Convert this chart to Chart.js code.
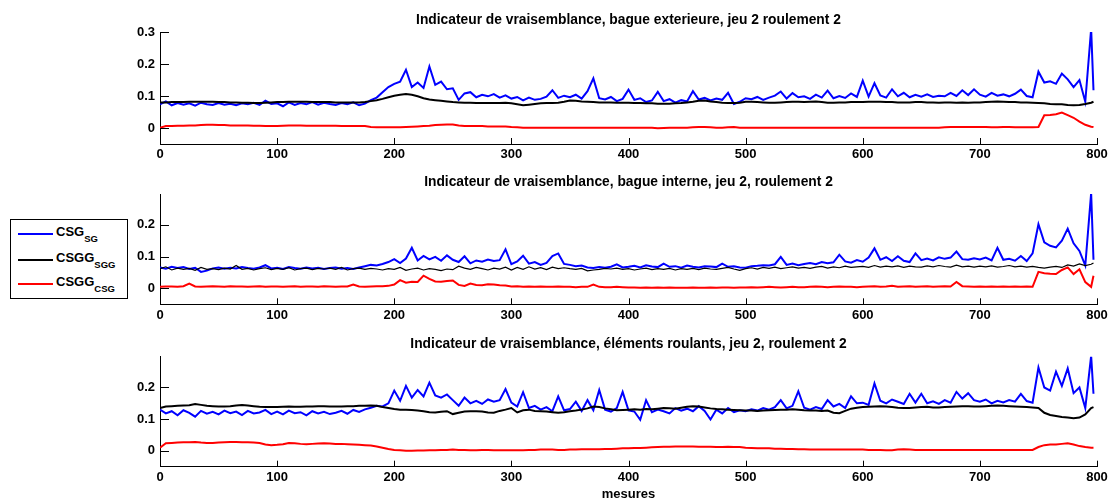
<!DOCTYPE html>
<html>
<head>
<meta charset="utf-8">
<script src="https://cdn.jsdelivr.net/npm/chart.js@4"></script>
<style>
    body { margin: 0; background: #fff; width: 1115px; height: 502px; overflow: hidden; position: relative;
           font-family: "Liberation Sans", Arial, sans-serif; }
    .panel { position: absolute; left: 0; }
    #legende { position: absolute; left: 10px; top: 219px; width: 116px; height: 78px; border: 1px solid #000; background: #fff; }
    .trait { position: absolute; left: 7px; width: 35px; height: 0; border-top: 2px solid; }
    .nom { position: absolute; left: 45px; font-size: 13px; line-height: 13px; font-weight: bold; white-space: nowrap; color: #000; }
    .nom span { font-size: 9.5px; position: relative; top: 6px; }
</style>
</head>
<body>
<div class="panel" style="top:0"><canvas id="p1" width="1115" height="165"></canvas></div>
<div class="panel" style="top:165px"><canvas id="p2" width="1115" height="165"></canvas></div>
<div class="panel" style="top:330px"><canvas id="p3" width="1115" height="172"></canvas></div>

<div id="legende">
    <div class="trait" style="top:13px;border-color:#0000ff"></div>
    <div class="nom" style="top:5px">CSG<span>SG</span></div>
    <div class="trait" style="top:39px;border-color:#000000"></div>
    <div class="nom" style="top:31px">CSGG<span>SGG</span></div>
    <div class="trait" style="top:63px;border-color:#ff0000"></div>
    <div class="nom" style="top:55px">CSGG<span>CSG</span></div>
</div>

<script>
// mesures : 0, 5, 10 ... 795 puis 797
const mesures = Array.from({length: 160}, (_, i) => i * 5).concat([797]);
const ticksX = [0, 100, 200, 300, 400, 500, 600, 700, 800];
const ticksY1 = [0, 0.1, 0.2, 0.3];
const ticksY23 = [0, 0.1, 0.2];
const noms = ['CSG_SG', 'CSGG_SGG', 'CSGG_CSG'];
const titres = [
    'Indicateur de vraisemblance, bague exterieure, jeu 2 roulement 2',
    'Indicateur de vraisemblance, bague interne, jeu 2, roulement 2',
    'Indicateur de vraisemblance, éléments roulants, jeu 2, roulement 2'
];

// bague exterieure
const bleu1 = [
    0.074,0.083,0.071,0.078,0.073,0.077,0.070,0.079,0.074,0.072,
    0.078,0.073,0.076,0.071,0.077,0.074,0.079,0.072,0.085,0.075,
    0.077,0.068,0.080,0.072,0.078,0.074,0.081,0.073,0.079,0.075,
    0.072,0.078,0.074,0.080,0.071,0.076,0.087,0.095,0.112,0.128,
    0.138,0.145,0.182,0.128,0.142,0.125,0.192,0.135,0.145,0.121,
    0.124,0.088,0.108,0.112,0.096,0.104,0.099,0.106,0.095,0.102,
    0.092,0.097,0.086,0.095,0.088,0.091,0.098,0.118,0.094,0.101,
    0.096,0.104,0.092,0.115,0.155,0.093,0.089,0.097,0.084,0.091,
    0.120,0.088,0.093,0.081,0.086,0.113,0.084,0.090,0.079,0.087,
    0.083,0.115,0.089,0.094,0.086,0.092,0.088,0.110,0.075,0.082,
    0.093,0.090,0.097,0.088,0.095,0.101,0.114,0.092,0.109,0.096,
    0.099,0.091,0.104,0.095,0.117,0.093,0.100,0.094,0.108,0.097,
    0.148,0.098,0.140,0.102,0.095,0.121,0.099,0.110,0.096,0.104,
    0.098,0.105,0.097,0.101,0.099,0.110,0.100,0.118,0.103,0.121,
    0.104,0.098,0.110,0.101,0.105,0.099,0.107,0.120,0.100,0.096,
    0.176,0.142,0.146,0.138,0.170,0.152,0.128,0.150,0.082,0.310,
    0.118
];
const noir1 = [
    0.080,0.080,0.081,0.081,0.081,0.082,0.082,0.082,0.082,0.082,
    0.081,0.081,0.080,0.080,0.079,0.079,0.078,0.078,0.079,0.080,
    0.081,0.081,0.082,0.082,0.082,0.082,0.081,0.081,0.081,0.081,
    0.080,0.080,0.080,0.080,0.080,0.081,0.084,0.087,0.091,0.096,
    0.101,0.104,0.106,0.104,0.099,0.093,0.089,0.087,0.085,0.083,
    0.081,0.080,0.079,0.079,0.078,0.078,0.078,0.078,0.078,0.079,
    0.077,0.074,0.071,0.073,0.075,0.077,0.078,0.078,0.079,0.082,
    0.086,0.085,0.083,0.082,0.081,0.080,0.080,0.080,0.079,0.079,
    0.079,0.078,0.078,0.077,0.077,0.076,0.076,0.076,0.077,0.078,
    0.080,0.082,0.085,0.086,0.083,0.081,0.079,0.078,0.078,0.079,
    0.082,0.082,0.081,0.080,0.079,0.079,0.080,0.081,0.082,0.082,
    0.081,0.082,0.083,0.081,0.079,0.079,0.080,0.080,0.081,0.081,
    0.081,0.082,0.082,0.082,0.081,0.081,0.080,0.080,0.080,0.081,
    0.081,0.080,0.080,0.079,0.080,0.080,0.079,0.080,0.079,0.080,
    0.080,0.081,0.082,0.083,0.082,0.081,0.081,0.080,0.080,0.079,
    0.078,0.077,0.075,0.074,0.074,0.072,0.071,0.072,0.075,0.079,
    0.082
];
const rouge1 = [
    0.001,0.006,0.006,0.007,0.007,0.008,0.008,0.009,0.010,0.010,
    0.009,0.009,0.008,0.008,0.008,0.008,0.007,0.007,0.006,0.006,
    0.006,0.007,0.008,0.008,0.008,0.007,0.007,0.007,0.007,0.007,
    0.007,0.006,0.006,0.006,0.006,0.006,0.003,0.002,0.002,0.002,
    0.002,0.002,0.003,0.004,0.005,0.006,0.007,0.009,0.010,0.011,
    0.011,0.008,0.006,0.006,0.006,0.006,0.005,0.005,0.005,0.005,
    0.003,0.002,0.001,0.001,0.001,0.001,0.001,0.001,0.001,0.001,
    0.001,0.001,0.001,0.001,0.001,0.001,0.001,0.001,0.001,0.001,
    0.001,0.001,0.001,0.001,0.001,-0.001,0.000,0.001,0.001,0.001,
    0.001,0.002,0.003,0.003,0.002,0.001,0.001,0.002,0.003,0.001,
    0.001,0.001,0.001,0.001,0.001,0.001,0.001,0.001,0.001,0.001,
    0.001,0.001,0.001,0.001,0.001,0.001,0.001,0.001,0.001,0.001,
    0.001,0.001,0.001,0.001,0.001,0.001,0.001,0.001,0.001,0.001,
    0.001,0.001,0.001,0.001,0.002,0.003,0.003,0.003,0.003,0.003,
    0.003,0.003,0.002,0.002,0.003,0.003,0.002,0.002,0.002,0.002,
    0.003,0.040,0.041,0.043,0.048,0.040,0.032,0.020,0.010,0.004,
    0.003
];

// bague interne
const bleu2 = [
    0.066,0.062,0.068,0.064,0.067,0.061,0.065,0.052,0.056,0.063,
    0.066,0.062,0.065,0.063,0.067,0.064,0.062,0.066,0.073,0.063,
    0.065,0.061,0.067,0.064,0.062,0.066,0.063,0.065,0.061,0.064,
    0.066,0.062,0.064,0.061,0.066,0.070,0.074,0.072,0.077,0.083,
    0.092,0.080,0.094,0.128,0.088,0.102,0.091,0.099,0.087,0.104,
    0.090,0.083,0.101,0.079,0.088,0.084,0.091,0.086,0.089,0.123,
    0.076,0.085,0.103,0.078,0.083,0.074,0.080,0.102,0.110,0.077,
    0.074,0.070,0.072,0.066,0.064,0.067,0.065,0.068,0.076,0.066,
    0.068,0.071,0.066,0.073,0.069,0.067,0.078,0.068,0.070,0.065,
    0.072,0.068,0.066,0.070,0.069,0.067,0.078,0.068,0.070,0.066,
    0.065,0.070,0.071,0.073,0.072,0.076,0.099,0.074,0.078,0.073,
    0.077,0.080,0.076,0.083,0.079,0.082,0.106,0.085,0.081,0.089,
    0.084,0.097,0.126,0.090,0.098,0.086,0.101,0.087,0.083,0.110,
    0.089,0.094,0.088,0.098,0.093,0.097,0.116,0.092,0.090,0.095,
    0.091,0.097,0.088,0.128,0.090,0.093,0.087,0.102,0.086,0.110,
    0.202,0.145,0.134,0.129,0.150,0.188,0.142,0.118,0.072,0.300,
    0.090
];
const noir2 = [
    0.062,0.068,0.058,0.064,0.060,0.063,0.057,0.066,0.060,0.062,
    0.059,0.064,0.061,0.072,0.060,0.063,0.058,0.062,0.065,0.059,
    0.063,0.060,0.065,0.058,0.062,0.064,0.059,0.063,0.061,0.064,
    0.060,0.066,0.058,0.062,0.064,0.060,0.063,0.061,0.058,0.062,
    0.060,0.066,0.057,0.061,0.064,0.058,0.062,0.060,0.056,0.061,
    0.059,0.070,0.064,0.060,0.066,0.062,0.058,0.064,0.061,0.067,
    0.058,0.066,0.060,0.068,0.061,0.065,0.059,0.067,0.062,0.065,
    0.062,0.060,0.063,0.055,0.058,0.060,0.063,0.061,0.064,0.060,
    0.062,0.058,0.061,0.064,0.059,0.062,0.060,0.063,0.058,0.062,
    0.060,0.063,0.059,0.064,0.061,0.060,0.063,0.066,0.061,0.057,
    0.062,0.065,0.061,0.066,0.063,0.067,0.062,0.065,0.068,0.064,
    0.066,0.063,0.067,0.069,0.064,0.068,0.065,0.070,0.066,0.068,
    0.069,0.066,0.072,0.067,0.070,0.068,0.071,0.066,0.070,0.068,
    0.067,0.071,0.068,0.072,0.069,0.067,0.073,0.068,0.070,0.067,
    0.070,0.068,0.071,0.067,0.069,0.072,0.068,0.070,0.067,0.069,
    0.066,0.064,0.067,0.069,0.066,0.074,0.070,0.077,0.072,0.076,
    0.080
];
const rouge2 = [
    0.005,0.006,0.006,0.005,0.007,0.015,0.006,0.005,0.006,0.007,
    0.006,0.005,0.007,0.006,0.006,0.005,0.006,0.007,0.005,0.006,
    0.006,0.005,0.006,0.007,0.005,0.006,0.006,0.005,0.007,0.006,
    0.005,0.006,0.006,0.012,0.006,0.005,0.006,0.007,0.007,0.008,
    0.012,0.026,0.018,0.021,0.020,0.040,0.030,0.022,0.021,0.023,
    0.025,0.011,0.008,0.015,0.011,0.010,0.013,0.012,0.010,0.009,
    0.006,0.007,0.005,0.006,0.005,0.006,0.005,0.005,0.006,0.005,
    0.005,0.004,0.005,0.005,0.012,0.005,0.004,0.004,0.005,0.004,
    0.003,0.003,0.002,0.003,0.002,0.003,0.002,0.003,0.002,0.002,
    0.002,0.003,0.002,0.002,0.003,0.002,0.003,0.003,0.002,0.003,
    0.003,0.004,0.003,0.004,0.005,0.004,0.003,0.004,0.005,0.004,
    0.004,0.005,0.006,0.005,0.004,0.005,0.006,0.005,0.005,0.004,
    0.005,0.006,0.007,0.005,0.006,0.008,0.005,0.006,0.007,0.005,
    0.006,0.007,0.005,0.006,0.007,0.006,0.020,0.007,0.006,0.005,
    0.006,0.005,0.006,0.005,0.006,0.005,0.006,0.005,0.006,0.005,
    0.052,0.048,0.046,0.045,0.058,0.066,0.045,0.060,0.020,0.005,
    0.040
];

// éléments roulants
const bleu3 = [
    0.130,0.118,0.125,0.112,0.128,0.120,0.108,0.126,0.117,0.123,
    0.115,0.127,0.119,0.124,0.113,0.126,0.118,0.121,0.129,0.116,
    0.124,0.115,0.127,0.119,0.122,0.112,0.125,0.118,0.123,0.116,
    0.120,0.126,0.117,0.129,0.123,0.131,0.136,0.142,0.140,0.150,
    0.190,0.158,0.205,0.168,0.192,0.172,0.215,0.175,0.168,0.178,
    0.160,0.142,0.168,0.150,0.158,0.148,0.162,0.155,0.160,0.195,
    0.152,0.140,0.185,0.135,0.142,0.130,0.138,0.125,0.172,0.128,
    0.132,0.155,0.126,0.160,0.128,0.192,0.130,0.124,0.135,0.186,
    0.128,0.124,0.098,0.160,0.122,0.130,0.125,0.118,0.135,0.127,
    0.133,0.125,0.141,0.126,0.099,0.130,0.118,0.135,0.122,0.128,
    0.125,0.131,0.127,0.135,0.130,0.138,0.160,0.134,0.142,0.188,
    0.136,0.130,0.138,0.132,0.160,0.140,0.148,0.135,0.172,0.150,
    0.152,0.145,0.213,0.158,0.150,0.162,0.155,0.148,0.180,0.152,
    0.180,0.150,0.156,0.148,0.160,0.152,0.186,0.165,0.182,0.160,
    0.155,0.162,0.150,0.158,0.153,0.160,0.155,0.180,0.157,0.152,
    0.263,0.200,0.190,0.250,0.205,0.260,0.182,0.200,0.135,0.300,
    0.180
];
const noir3 = [
    0.135,0.140,0.141,0.142,0.143,0.144,0.148,0.145,0.142,0.141,
    0.140,0.140,0.141,0.143,0.145,0.143,0.141,0.139,0.138,0.138,
    0.138,0.139,0.140,0.139,0.139,0.140,0.140,0.141,0.141,0.140,
    0.140,0.140,0.141,0.141,0.142,0.142,0.143,0.142,0.138,0.135,
    0.132,0.130,0.130,0.129,0.127,0.125,0.122,0.121,0.123,0.125,
    0.116,0.120,0.124,0.125,0.125,0.124,0.121,0.120,0.126,0.130,
    0.135,0.121,0.128,0.130,0.126,0.125,0.124,0.122,0.120,0.122,
    0.125,0.127,0.130,0.134,0.140,0.138,0.134,0.131,0.128,0.129,
    0.130,0.131,0.130,0.132,0.131,0.133,0.135,0.134,0.133,0.136,
    0.139,0.141,0.140,0.137,0.134,0.132,0.131,0.130,0.129,0.128,
    0.127,0.127,0.126,0.127,0.128,0.129,0.130,0.130,0.131,0.130,
    0.128,0.127,0.127,0.126,0.127,0.120,0.119,0.126,0.133,0.136,
    0.138,0.139,0.140,0.141,0.140,0.138,0.136,0.135,0.135,0.137,
    0.138,0.139,0.137,0.137,0.138,0.139,0.140,0.141,0.141,0.140,
    0.140,0.141,0.142,0.143,0.142,0.141,0.140,0.139,0.138,0.137,
    0.135,0.120,0.113,0.110,0.107,0.105,0.103,0.105,0.115,0.135,
    0.138
];
const rouge3 = [
    0.010,0.024,0.025,0.026,0.027,0.027,0.028,0.026,0.025,0.025,
    0.026,0.027,0.028,0.028,0.027,0.027,0.026,0.025,0.020,0.018,
    0.019,0.021,0.025,0.024,0.022,0.021,0.022,0.023,0.024,0.023,
    0.022,0.022,0.021,0.020,0.019,0.018,0.017,0.014,0.010,0.006,
    0.003,0.002,0.000,0.000,0.001,0.001,0.002,0.002,0.003,0.003,
    0.004,0.003,0.003,0.002,0.002,0.003,0.003,0.002,0.002,0.002,
    0.002,0.002,0.002,0.003,0.003,0.004,0.004,0.004,0.003,0.003,
    0.004,0.004,0.005,0.005,0.005,0.005,0.006,0.006,0.007,0.008,
    0.008,0.009,0.009,0.010,0.011,0.012,0.013,0.013,0.014,0.014,
    0.014,0.014,0.013,0.013,0.013,0.012,0.012,0.013,0.012,0.012,
    0.010,0.009,0.008,0.008,0.008,0.007,0.007,0.006,0.006,0.005,
    0.005,0.004,0.004,0.004,0.004,0.004,0.004,0.004,0.004,0.004,
    0.004,0.003,0.003,0.003,0.002,0.002,0.004,0.005,0.004,0.003,
    0.003,0.003,0.003,0.003,0.003,0.003,0.003,0.003,0.003,0.003,
    0.003,0.003,0.003,0.003,0.003,0.003,0.003,0.003,0.003,0.003,
    0.012,0.018,0.020,0.020,0.022,0.024,0.020,0.015,0.012,0.010,
    0.010
];

const police = '"Liberation Sans", Arial, sans-serif';

// petites graduations vers l'intérieur, comme matlab
const graduations = {
    id: 'graduations',
    afterDraw(chart) {
        const {ctx, chartArea: a, scales: {x, y}} = chart;
        ctx.save();
        ctx.strokeStyle = '#000';
        ctx.lineWidth = 1;
        ctx.beginPath();
        x.ticks.forEach(t => {
            const px = Math.round(x.getPixelForValue(t.value)) + 0.5;
            ctx.moveTo(px, a.bottom);
            ctx.lineTo(px, a.bottom - 6);
        });
        y.ticks.forEach(t => {
            const py = Math.round(y.getPixelForValue(t.value)) + 0.5;
            ctx.moveTo(a.left, py);
            ctx.lineTo(a.left + 9, py);
        });
        ctx.stroke();
        ctx.restore();
    }
};

function points(serie) {
    return serie.map((v, i) => ({x: mesures[i], y: v}));
}

function panneau(id, titre, bleu, noir, rouge, ticksY, yMax, geo) {
    return new Chart(document.getElementById(id), {
        type: 'line',
        data: {
            datasets: [
                {label: noms[0], data: points(bleu), borderColor: '#0000ff', borderWidth: 2, order: 3},
                {label: noms[1], data: points(noir), borderColor: '#000000', borderWidth: geo.noir, order: 2},
                {label: noms[2], data: points(rouge), borderColor: '#ff0000', borderWidth: 2, order: 1}
            ]
        },
        options: {
            responsive: false,
            animation: false,
            elements: {point: {radius: 0}, line: {tension: 0}},
            layout: {padding: {left: 0, right: 18, top: 0, bottom: 0}},
            plugins: {legend: {display: false}, tooltip: {enabled: false}},
            scales: {
                // axe du haut : ne sert qu'à porter le titre, centré sur la zone de tracé
                haut: {
                    type: 'linear', position: 'top', min: 0, max: 800,
                    afterFit: s => { s.height = geo.haut; },
                    grid: {display: false, drawTicks: false},
                    border: {display: false},
                    ticks: {display: false},
                    title: {display: true, text: titre, color: '#000', padding: {top: geo.tTop, bottom: 0},
                            font: {family: police, size: 13.8, weight: 'bold', lineHeight: 1}}
                },
                x: {
                    type: 'linear', min: 0, max: 800,
                    afterBuildTicks: s => { s.ticks = ticksX.map(v => ({value: v})); },
                    afterFit: s => { s.height = geo.xHeight; },
                    grid: {display: false, drawTicks: false},
                    border: {display: true, color: '#000', width: 1},
                    ticks: {color: '#000', padding: 3, maxRotation: 0, font: {family: police, size: 13, weight: 'bold'}},
                    title: {display: !!geo.xTitre, text: geo.xTitre || '', color: '#000', padding: 0,
                            font: {family: police, size: 13, weight: 'bold'}}
                },
                y: {
                    type: 'linear', min: -0.05, max: yMax,
                    afterBuildTicks: s => { s.ticks = ticksY.map(v => ({value: v})); },
                    afterFit: s => { s.width = 160; },
                    grid: {display: false, drawTicks: false},
                    border: {display: true, color: '#000', width: 1},
                    ticks: {color: '#000', padding: 5, callback: v => String(v), font: {family: police, size: 13, weight: 'bold'}}
                }
            }
        },
        plugins: [graduations]
    });
}

panneau('p1', titres[0], bleu1, noir1, rouge1, ticksY1, 0.3, {haut: 32, tTop: 13.1, xHeight: 21, noir: 2});
panneau('p2', titres[1], bleu2, noir2, rouge2, ticksY23, 0.297, {haut: 29, tTop: 9.8, xHeight: 25.7, noir: 1.2});
panneau('p3', titres[2], bleu3, noir3, rouge3, ticksY23, 0.297, {haut: 26.7, tTop: 7.1, xHeight: 35.3, noir: 2, xTitre: 'mesures'});
</script>
</body>
</html>
